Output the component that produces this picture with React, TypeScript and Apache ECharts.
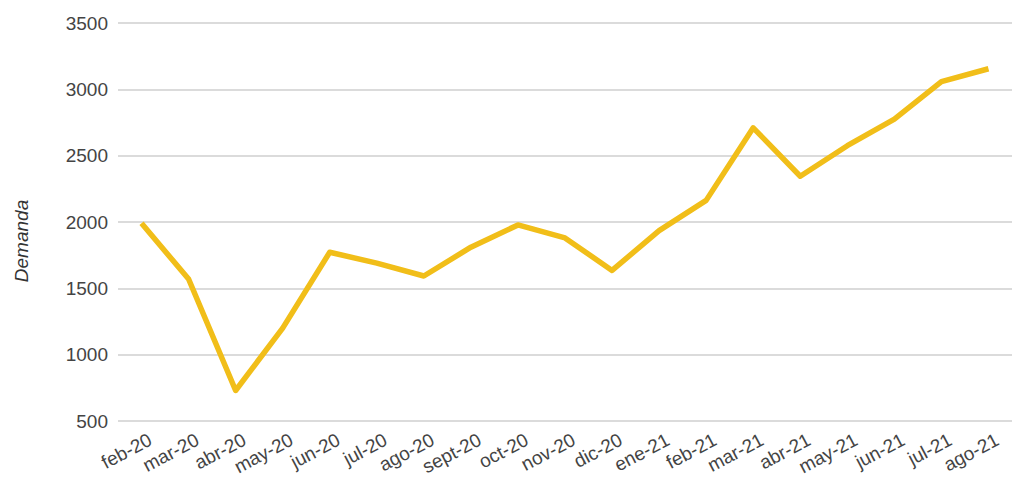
import React, { useEffect, useRef } from "react";
import * as echarts from "echarts";

const categories = [
  "feb-20", "mar-20", "abr-20", "may-20", "jun-20", "jul-20", "ago-20", "sept-20", "oct-20", "nov-20",
  "dic-20", "ene-21", "feb-21", "mar-21", "abr-21", "may-21", "jun-21", "jul-21", "ago-21",
];
const demanda = [
  1990, 1570, 730, 1200, 1772, 1690, 1593, 1810, 1978, 1880,
  1635, 1935, 2163, 2710, 2345, 2575, 2775, 3058, 3155,
];
const yMin = 500;
const yMax = 3500;
const yInterval = 500;
const yTitle = "Demanda";

export default function App() {
  const ref = useRef<HTMLDivElement>(null);
  useEffect(() => {
    if (!ref.current) return;
    const chart = echarts.init(ref.current, null, { renderer: "svg" });
    chart.setOption({
      animation: false,
      backgroundColor: "#ffffff",
      grid: { left: 118, right: 12, top: 23, bottom: 82, containLabel: false },
      xAxis: {
        type: "category",
        data: categories,
        boundaryGap: true,
        axisLine: { show: false },
        axisTick: { show: false },
        axisLabel: {
          rotate: 28,
          interval: 0,
          margin: 22,
          color: "#444444",
          fontSize: 19,
          padding: [0, -10, 0, 0],
          fontFamily: "Liberation Sans, Arial, sans-serif",
        },
      },
      yAxis: {
        type: "value",
        min: yMin,
        max: yMax,
        interval: yInterval,
        axisLine: { show: false },
        axisTick: { show: false },
        splitLine: { lineStyle: { color: "#cfcfcf", width: 1.5 } },
        axisLabel: {
          margin: 10,
          color: "#444444",
          fontSize: 19,
          fontFamily: "Liberation Sans, Arial, sans-serif",
          formatter: (v: number) => String(v),
        },
      },
      graphic: [
        {
          type: "text",
          x: 21,
          y: 241,
          rotation: Math.PI / 2,
          style: {
            text: yTitle,
            fontSize: 19,
            fontStyle: "italic",
            fontFamily: "Liberation Sans, Arial, sans-serif",
            fill: "#333333",
            align: "center",
            verticalAlign: "middle",
          },
        },
      ],
      series: [
        {
          type: "line",
          data: demanda,
          showSymbol: false,
          symbol: "none",
          lineStyle: { color: "#F1BE19", width: 5.5, join: "round" },
          itemStyle: { color: "#F1BE19" },
        },
      ],
    });
    return () => chart.dispose();
  }, []);
  return <div ref={ref} style={{ width: 1024, height: 503, margin: -8 }} />;
}
